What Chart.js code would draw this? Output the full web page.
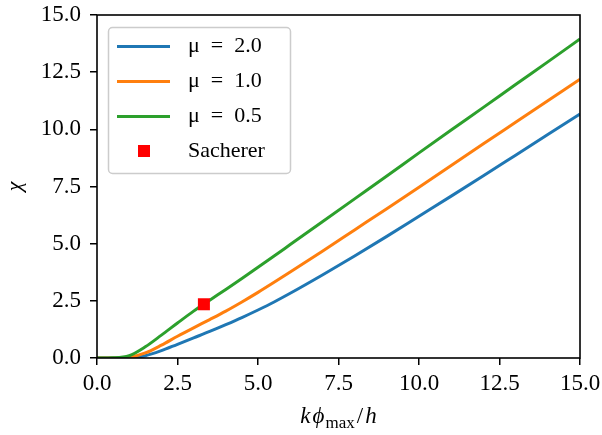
<!DOCTYPE html>
<html lang="en">
<head>
    <meta charset="UTF-8">
    <title>Chi versus k phi_max / h</title>
    <script src="https://cdn.jsdelivr.net/npm/chart.js@4.4.1/dist/chart.umd.min.js"></script>
    <style>
        * {
            margin: 0;
            padding: 0;
            box-sizing: border-box;
        }

        body {
            background: white;
        }

        .chart-container {
            width: 602px;
            height: 435px;
        }
    </style>
</head>
<body>
    <div class="chart-container">
        <canvas id="chiChart" width="602" height="435"></canvas>
    </div>

    <script>
        // Values
        const kPhi = [0, 0.5, 1, 1.5, 2, 2.5, 3, 3.5, 4, 4.5, 5, 5.5, 6,
                      7, 8, 9, 10, 11, 12, 13, 14, 15];
        const chiMu20 = [0, 0, 0.01, 0.1, 0.32, 0.6, 0.88, 1.16, 1.46, 1.77, 2.1, 2.45, 2.83,
                         3.63, 4.46, 5.32, 6.2, 7.08, 7.97, 8.87, 9.77, 10.67];
        const chiMu10 = [0, 0, 0.03, 0.22, 0.56, 0.95, 1.32, 1.68, 2.05, 2.45, 2.87, 3.31, 3.76,
                         4.67, 5.6, 6.53, 7.47, 8.42, 9.37, 10.31, 11.25, 12.19];
        const chiMu05 = [0, 0.01, 0.1, 0.49, 1.0, 1.53, 2.05, 2.53, 3.0, 3.48, 3.97, 4.46, 4.96,
                         5.96, 6.96, 7.96, 8.97, 9.97, 10.96, 11.96, 12.95, 13.95];
        const sachererX = [3.32];
        const sachererY = [2.35];
        const seriesLabels = ['μ\u2002=\u20022.0', 'μ\u2002=\u20021.0', 'μ\u2002=\u20020.5', 'Sacherer'];
        const axisTicks = [0, 2.5, 5, 7.5, 10, 12.5, 15];

        const FONT = "'Liberation Serif', 'Times New Roman', serif";
        const colors = ['#1f77b4', '#ff7f0e', '#2ca02c', '#ff0000'];

        function toPoints(xs, ys) {
            return xs.map((x, i) => ({ x: x, y: ys[i] }));
        }

        // small images used as legend samples
        function lineSample(color) {
            const c = document.createElement('canvas');
            c.width = 53; c.height = 3;
            const g = c.getContext('2d');
            g.fillStyle = color;
            g.fillRect(0, 0, 53, 3);
            return c;
        }
        function squareSample(color) {
            const c = document.createElement('canvas');
            c.width = 12; c.height = 12;
            const g = c.getContext('2d');
            g.fillStyle = color;
            g.fillRect(0, 0, 12, 12);
            return c;
        }
        const legendSamples = [lineSample(colors[0]), lineSample(colors[1]), lineSample(colors[2]), squareSample(colors[3])];

        // matplotlib style frame round the plot, and legend box
        const framePlugin = {
            id: 'frame',
            afterLayout(chart) {
                // vertical legend in chartArea starts at top 0, move it into the plot
                const shift = chart.chartArea.top + 7 - chart.legend.top;
                chart.legend.top += shift;
                chart.legend.bottom += shift;
            },
            beforeDraw(chart) {
                const a = chart.chartArea;
                const ctx = chart.ctx;
                const x0 = a.left + 11, y0 = a.top + 12, w = 182, h = 146, r = 4;
                ctx.save();
                ctx.beginPath();
                ctx.roundRect(x0 + 0.5, y0 + 0.5, w, h, r);
                ctx.fillStyle = 'rgba(255,255,255,0.8)';
                ctx.fill();
                ctx.strokeStyle = '#cccccc';
                ctx.lineWidth = 1.5;
                ctx.stroke();
                ctx.restore();
            },
            afterDatasetsDraw(chart) {
                const a = chart.chartArea;
                const ctx = chart.ctx;
                ctx.save();
                ctx.strokeStyle = '#000';
                ctx.lineWidth = 1.6;
                ctx.strokeRect(a.left, a.top, a.right - a.left, a.bottom - a.top);
                ctx.restore();
            },
            afterDraw(chart) {
                // x axis title: k phi_max / h
                const a = chart.chartArea;
                const ctx = chart.ctx;
                const parts = [
                    { t: 'k', f: 'italic 23px ' + FONT, dy: 0, gap: 2 },
                    { t: 'ϕ', f: 'italic 23px ' + FONT, dy: 0, gap: 1 },
                    { t: 'max', f: '17px ' + FONT, dy: 5, gap: 2 },
                    { t: '/', f: '23px ' + FONT, dy: 0, gap: 2 },
                    { t: 'h', f: 'italic 23px ' + FONT, dy: 0, gap: 0 }
                ];
                ctx.save();
                let total = 0;
                parts.forEach(p => { ctx.font = p.f; p.w = ctx.measureText(p.t).width; total += p.w + p.gap; });
                let x = (a.left + a.right) / 2 - total / 2;
                const base = 423;
                ctx.fillStyle = '#000';
                ctx.textBaseline = 'alphabetic';
                parts.forEach(p => {
                    ctx.font = p.f;
                    ctx.fillText(p.t, x, base + p.dy);
                    x += p.w + p.gap;
                });
                ctx.restore();
            }
        };

        const tickFont = { family: FONT, size: 23 };

        new Chart(document.getElementById('chiChart'), {
            type: 'line',
            data: {
                datasets: [{
                    label: seriesLabels[0],
                    data: toPoints(kPhi, chiMu20),
                    borderColor: colors[0],
                    borderWidth: 3,
                    pointRadius: 0,
                    cubicInterpolationMode: 'monotone',
                    order: 3
                }, {
                    label: seriesLabels[1],
                    data: toPoints(kPhi, chiMu10),
                    borderColor: colors[1],
                    borderWidth: 3,
                    pointRadius: 0,
                    cubicInterpolationMode: 'monotone',
                    order: 2
                }, {
                    label: seriesLabels[2],
                    data: toPoints(kPhi, chiMu05),
                    borderColor: colors[2],
                    borderWidth: 3,
                    pointRadius: 0,
                    cubicInterpolationMode: 'monotone',
                    order: 1
                }, {
                    label: seriesLabels[3],
                    data: toPoints(sachererX, sachererY),
                    showLine: false,
                    pointStyle: 'rect',
                    pointRadius: 8.5,
                    pointBorderWidth: 0,
                    backgroundColor: colors[3],
                    borderColor: colors[3],
                    order: 0
                }]
            },
            options: {
                responsive: false,
                animation: false,
                layout: {
                    padding: { left: 0, right: 22, top: 15, bottom: 0 }
                },
                plugins: {
                    tooltip: { enabled: false },
                    legend: {
                        position: 'chartArea',
                        align: 'start',
                        labels: {
                            usePointStyle: true,
                            pointStyleWidth: 67,
                            padding: 13,
                            color: '#000',
                            font: { family: FONT, size: 22 },
                            generateLabels(chart) {
                                return chart.data.datasets.map((ds, i) => ({
                                    text: ds.label,
                                    pointStyle: legendSamples[i],
                                    fillStyle: colors[i],
                                    strokeStyle: colors[i],
                                    lineWidth: 0,
                                    fontColor: '#000',
                                    hidden: false,
                                    datasetIndex: i
                                }));
                            }
                        }
                    }
                },
                scales: {
                    x: {
                        type: 'linear',
                        min: 0,
                        max: 15,
                        afterBuildTicks(scale) {
                            scale.ticks = axisTicks.map(v => ({ value: v }));
                        },
                        afterFit(scale) {
                            scale.height = 77;
                            scale.paddingLeft = 0;
                            scale.paddingRight = 0;
                        },
                        ticks: {
                            color: '#000',
                            font: tickFont,
                            padding: 5,
                            maxRotation: 0,
                            callback: v => Number(v).toFixed(1)
                        },
                        grid: {
                            drawOnChartArea: false,
                            drawTicks: true,
                            tickLength: 7,
                            color: '#000',
                            lineWidth: 1.5
                        },
                        border: { display: false }
                    },
                    y: {
                        min: 0,
                        max: 15,
                        afterBuildTicks(scale) {
                            scale.ticks = axisTicks.map(v => ({ value: v }));
                        },
                        afterFit(scale) {
                            scale.width = 97;
                            scale.paddingTop = 0;
                            scale.paddingBottom = 0;
                        },
                        title: {
                            display: true,
                            text: 'χ',
                            color: '#000',
                            font: { family: FONT, size: 22, style: 'italic' },
                            padding: { top: 2, bottom: 0 }
                        },
                        ticks: {
                            color: '#000',
                            font: tickFont,
                            padding: 9,
                            callback: v => Number(v).toFixed(1)
                        },
                        grid: {
                            drawOnChartArea: false,
                            drawTicks: true,
                            tickLength: 7,
                            color: '#000',
                            lineWidth: 1.5
                        },
                        border: { display: false }
                    }
                }
            },
            plugins: [framePlugin]
        });
    </script>
</body>
</html>
